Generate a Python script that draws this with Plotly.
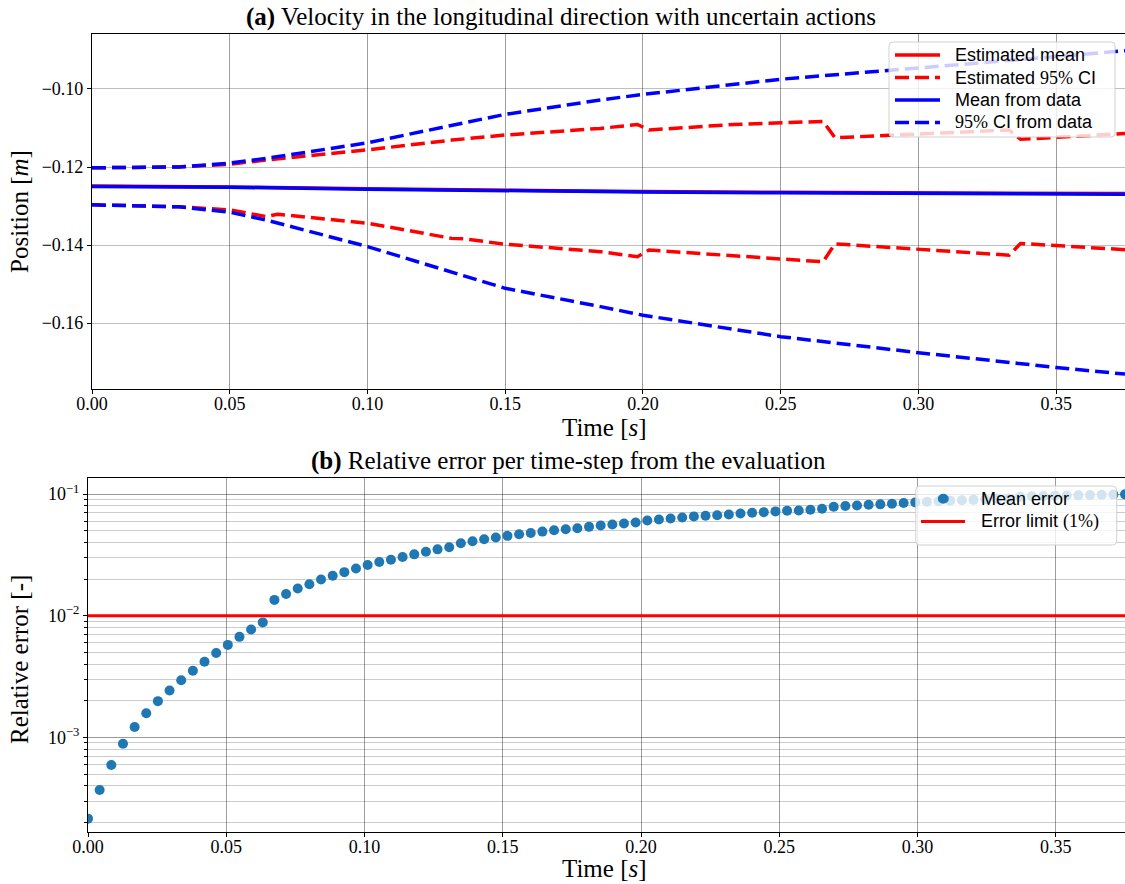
import numpy as np
import plotly.graph_objects as go

# ---------------- data: panel (a) ----------------
t_mean_est = [0.0, 0.05, 0.10, 0.15, 0.20, 0.25, 0.30, 0.375]
mean_est = [-0.1249, -0.1251, -0.1256, -0.1260, -0.1263, -0.1265, -0.1267, -0.1268]

t_mean_data = [0.0, 0.05, 0.10, 0.15, 0.20, 0.25, 0.30, 0.375]
mean_data = [-0.1250, -0.1252, -0.1257, -0.1261, -0.1264, -0.1266, -0.1268, -0.1270]

t_est_up = [0.0, 0.0315, 0.05, 0.0632, 0.10, 0.1306, 0.15, 0.1846, 0.1980, 0.2022,
            0.2330, 0.2654, 0.2697, 0.3033, 0.3329, 0.3371, 0.375]
est_up = [-0.1202, -0.1200, -0.1193, -0.1182, -0.1156, -0.1131, -0.1118, -0.1101, -0.1091,
          -0.1105, -0.1091, -0.1083, -0.1125, -0.1114, -0.1105, -0.1129, -0.1114]

t_est_lo = [0.0, 0.0315, 0.05, 0.0632, 0.0674, 0.10, 0.1306, 0.1348, 0.15, 0.1846, 0.1980,
            0.2022, 0.2654, 0.2697, 0.3329, 0.3371, 0.375]
est_lo = [-0.1297, -0.1302, -0.1310, -0.1327, -0.1321, -0.1344, -0.1383, -0.1384, -0.1398,
          -0.1417, -0.1430, -0.1413, -0.1443, -0.1397, -0.1426, -0.1396, -0.1412]

t_data_up = [0.0, 0.025, 0.0315, 0.05, 0.0632, 0.10, 0.1306, 0.15, 0.1846, 0.20, 0.25,
             0.30, 0.35, 0.375]
data_up = [-0.1202, -0.1201, -0.1200, -0.1190, -0.1178, -0.1138, -0.1092, -0.1065, -0.1028,
           -0.1014, -0.0975, -0.0947, -0.0917, -0.0902]

t_data_lo = [0.0, 0.0315, 0.05, 0.0632, 0.10, 0.1306, 0.15, 0.1846, 0.20, 0.25, 0.30,
             0.35, 0.375]
data_lo = [-0.1297, -0.1302, -0.1316, -0.1336, -0.1404, -0.1470, -0.1511, -0.1558, -0.1580,
           -0.1635, -0.1676, -0.1714, -0.1731]

# ---------------- data: panel (b) ----------------
N_STEPS = 90
T_END = 0.375
time = np.linspace(0.0, T_END, N_STEPS)

mean_error = [
    2.15e-4, 3.70e-4, 5.94e-4, 8.87e-4, 1.216e-3, 1.578e-3, 1.986e-3, 2.432e-3, 2.944e-3, 3.532e-3,
    4.188e-3, 4.943e-3, 5.754e-3, 6.699e-3, 7.709e-3, 8.810e-3, 1.349e-2, 1.510e-2, 1.671e-2, 1.816e-2,
    1.986e-2, 2.128e-2, 2.280e-2, 2.443e-2, 2.606e-2, 2.761e-2, 2.884e-2, 3.034e-2, 3.192e-2, 3.357e-2,
    3.508e-2, 3.648e-2, 3.936e-2, 4.093e-2, 4.246e-2, 4.385e-2, 4.529e-2, 4.667e-2, 4.786e-2, 4.909e-2,
    5.035e-2, 5.140e-2, 5.236e-2, 5.370e-2, 5.508e-2, 5.610e-2, 5.728e-2, 5.834e-2, 6.053e-2, 6.180e-2,
    6.295e-2, 6.412e-2, 6.546e-2, 6.622e-2, 6.699e-2, 6.792e-2, 6.918e-2, 7.015e-2, 7.096e-2, 7.194e-2,
    7.278e-2, 7.328e-2, 7.413e-2, 7.568e-2, 7.852e-2, 7.962e-2, 8.054e-2, 8.166e-2, 8.222e-2, 8.318e-2,
    8.433e-2, 8.531e-2, 8.630e-2, 8.710e-2, 8.790e-2, 8.872e-2, 8.954e-2, 9.036e-2, 9.120e-2, 9.204e-2,
    9.506e-2, 9.572e-2, 9.616e-2, 9.661e-2, 9.705e-2, 9.750e-2, 9.795e-2, 9.840e-2, 9.886e-2, 9.931e-2,
]
error_limit = 0.01

x_ticks = [0.0, 0.05, 0.10, 0.15, 0.20, 0.25, 0.30, 0.35]
y_ticks_a = [-0.10, -0.12, -0.14, -0.16]
y_ticks_b = [1e-3, 1e-2, 1e-1]
y_ticktext_b = ["10<sup>\u22123</sup>", "10<sup>\u22122</sup>", "10<sup>\u22121</sup>"]

legend_a = ["Estimated mean",
            "Estimated <span style='font-family:Liberation Serif'>95%</span> CI",
            "Mean from data",
            "<span style='font-family:Liberation Serif'>95%</span> CI from data"]
legend_b = ["Mean error",
            "Error limit <span style='font-family:Liberation Serif'>(1%)</span>"]

# ---------------- styling ----------------
W, H = 1125, 884
SERIF = "Liberation Serif"
SANS = "Liberation Sans"
RED = "#ff0000"
BLUE = "#0000ff"
MARKER = "#1f77b4"
DASH = "14px,6px"
LW = 3.5


def px(x):
    return x / W


def py(y):
    return 1 - y / H


fig = go.Figure()

# red (estimated) first, blue drawn on top
fig.add_trace(go.Scatter(x=t_mean_est, y=mean_est, mode="lines", name=legend_a[0],
                         line=dict(color=RED, width=LW), xaxis="x", yaxis="y"))
fig.add_trace(go.Scatter(x=t_est_up, y=est_up, mode="lines", name=legend_a[1],
                         line=dict(color=RED, width=LW, dash=DASH), xaxis="x", yaxis="y"))
fig.add_trace(go.Scatter(x=t_est_lo, y=est_lo, mode="lines", name=legend_a[1],
                         line=dict(color=RED, width=LW, dash=DASH), xaxis="x", yaxis="y"))
fig.add_trace(go.Scatter(x=t_mean_data, y=mean_data, mode="lines", name=legend_a[2],
                         line=dict(color=BLUE, width=LW), xaxis="x", yaxis="y"))
fig.add_trace(go.Scatter(x=t_data_up, y=data_up, mode="lines", name=legend_a[3],
                         line=dict(color=BLUE, width=LW, dash=DASH), xaxis="x", yaxis="y"))
fig.add_trace(go.Scatter(x=t_data_lo, y=data_lo, mode="lines", name=legend_a[3],
                         line=dict(color=BLUE, width=LW, dash=DASH), xaxis="x", yaxis="y"))

# panel (b)
fig.add_trace(go.Scatter(x=time, y=mean_error, mode="markers", name=legend_b[0],
                         marker=dict(color=MARKER, size=10, line=dict(width=0)),
                         xaxis="x2", yaxis="y2"))
fig.add_trace(go.Scatter(x=[time[0], time[-1]], y=[error_limit, error_limit], mode="lines",
                         name=legend_b[1], line=dict(color=RED, width=3),
                         xaxis="x2", yaxis="y2"))

tickfont = dict(family=SERIF, size=18, color="black")

ax_common = dict(showline=True, linecolor="black", linewidth=1.2, ticks="outside", ticklen=4,
                 tickcolor="black", tickfont=tickfont, zeroline=False, showgrid=True,
                 gridwidth=1, automargin=False)

top_dom = [py(388.5), py(34)]
bot_dom = [py(831.7), py(477.7)]

minor_vals = [m * 10.0 ** e for e in (-4, -3, -2) for m in range(2, 10)]

fig.update_layout(
    width=W, height=H,
    margin=dict(l=0, r=0, t=0, b=0, autoexpand=False),
    paper_bgcolor="white", plot_bgcolor="white",
    showlegend=False,
    xaxis=dict(domain=[px(92), 1.0], anchor="y", range=[0, T_END], tickvals=x_ticks,
               tickformat=".2f", mirror=True, gridcolor="rgba(0,0,0,0.38)",
               ticklabelstandoff=-5, **ax_common),
    yaxis=dict(domain=top_dom, anchor="x", range=[-0.17679, -0.08590], tickvals=y_ticks_a,
               tickformat=".2f", gridcolor="rgba(0,0,0,0.25)", **ax_common),
    xaxis2=dict(domain=[px(88), 1.0], anchor="y2", range=[0, T_END], tickvals=x_ticks,
                tickformat=".2f", mirror=True, gridcolor="rgba(0,0,0,0.38)",
                ticklabelstandoff=-5, **ax_common),
    yaxis2=dict(domain=bot_dom, anchor="x2", type="log", range=[-3.775, -0.866],
                tickvals=y_ticks_b, ticktext=y_ticktext_b, gridcolor="rgba(0,0,0,0.4)",
                minor=dict(tickvals=minor_vals, ticks="outside", ticklen=2.5, tickcolor="black",
                           showgrid=True, gridcolor="rgba(0,0,0,0.2)", gridwidth=1),
                **ax_common),
)

# ---------- titles and axis labels ----------
ann_font = dict(family=SERIF, size=25, color="black")
label_font = dict(family=SERIF, size=25, color="black")
annotations = [
    dict(text="<b>(a)</b> Velocity in the longitudinal direction with uncertain actions",
         x=px(561), y=py(17), font=ann_font),
    dict(text="<b>(b)</b> Relative error per time-step from the evaluation",
         x=px(568), y=py(461), font=ann_font),
    dict(text="Time [<i>s</i>]", x=px(604), y=py(427), font=label_font),
    dict(text="Time [<i>s</i>]", x=px(604), y=py(868), font=label_font),
    dict(text="Position [<i>m</i>]", x=px(19), y=py(212), font=label_font, textangle=-90),
    dict(text="Relative error [-]", x=px(19), y=py(660), font=label_font, textangle=-90),
]
for a in annotations:
    a.update(xanchor="center", yanchor="middle")

# ---------- hand-drawn legends (matplotlib style) ----------
shapes = []
leg_font = dict(family=SANS, size=18, color="black")


def rounded_box(x0, y0, x1, y1, r=4):
    X0, X1 = px(x0), px(x1)
    Y0, Y1 = py(y0), py(y1)
    rx, ry = r / W, r / H
    path = (f"M{X0 + rx},{Y0} L{X1 - rx},{Y0} Q{X1},{Y0} {X1},{Y0 - ry} "
            f"L{X1},{Y1 + ry} Q{X1},{Y1} {X1 - rx},{Y1} L{X0 + rx},{Y1} "
            f"Q{X0},{Y1} {X0},{Y1 + ry} L{X0},{Y0 - ry} Q{X0},{Y0} {X0 + rx},{Y0} Z")
    return dict(type="path", path=path, xref="paper", yref="paper", layer="above",
                fillcolor="rgba(255,255,255,0.8)", line=dict(color="rgba(204,204,204,0.9)", width=1))


# legend (a)
shapes.append(rounded_box(889, 42, 1115, 137))
rows_a = [55, 77.5, 100, 122.5]
styles_a = [(RED, "solid"), (RED, DASH), (BLUE, "solid"), (BLUE, DASH)]
for label, yrow, (col, dash) in zip(legend_a, rows_a, styles_a):
    shapes.append(dict(type="line", xref="paper", yref="paper", layer="above",
                       x0=px(895), x1=px(940), y0=py(yrow), y1=py(yrow),
                       line=dict(color=col, width=LW, dash=dash)))
    annotations.append(dict(text=label, x=px(953), y=py(yrow), xanchor="left",
                            yanchor="middle", font=leg_font))

# legend (b)
shapes.append(rounded_box(915.7, 486, 1116.7, 545))
shapes.append(dict(type="circle", xref="paper", yref="paper", layer="above",
                   x0=px(943.3 - 5.5), x1=px(943.3 + 5.5), y0=py(498.7 - 5), y1=py(498.7 + 5),
                   fillcolor=MARKER, line=dict(width=0)))
annotations.append(dict(text=legend_b[0], x=px(979), y=py(498.7), xanchor="left",
                        yanchor="middle", font=leg_font))
shapes.append(dict(type="line", xref="paper", yref="paper", layer="above",
                   x0=px(921), x1=px(965), y0=py(521.5), y1=py(521.5),
                   line=dict(color=RED, width=3)))
annotations.append(dict(text=legend_b[1], x=px(979), y=py(521.5), xanchor="left",
                        yanchor="middle", font=leg_font))

for a in annotations:
    a.update(xref="paper", yref="paper", showarrow=False)

fig.update_layout(annotations=annotations, shapes=shapes)

fig.write_html("out.html")
